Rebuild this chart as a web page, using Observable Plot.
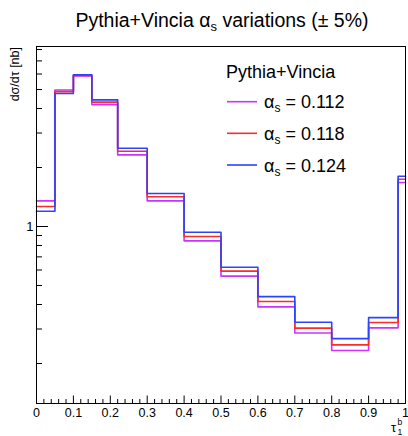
<!DOCTYPE html>
<html>
<head>
<meta charset="utf-8">
<script src="https://cdn.jsdelivr.net/npm/d3@7"></script>
<script src="https://cdn.jsdelivr.net/npm/@observablehq/plot@0.6"></script>
<style>
  html, body { margin: 0; padding: 0; background: white; }
  #chart { width: 408px; height: 436px; }
</style>
</head>
<body>
<div id="chart"></div>
<script>
// Bin edges of tau_1^b
const edges = [0, 0.05, 0.1, 0.15, 0.22, 0.3, 0.4, 0.5, 0.6, 0.7, 0.8, 0.9, 0.98, 1];
// dσ/dτ [nb] per bin for each alpha_s variation
const as112 = [1.352, 4.97, 5.87, 4.19, 2.32, 1.352, 0.845, 0.558, 0.389, 0.286, 0.233, 0.304, 1.677];
const as118 = [1.265, 4.88, 5.90, 4.31, 2.42, 1.418, 0.889, 0.592, 0.414, 0.303, 0.249, 0.324, 1.743];
const as124 = [1.197, 4.77, 5.94, 4.43, 2.51, 1.474, 0.935, 0.620, 0.439, 0.325, 0.268, 0.343, 1.806];
const seriesNames = ["0.112", "0.118", "0.124"];
const seriesColors = ["#cc33ff", "#ff2a2a", "#2a44ff"];

// Axis ticks
const xTicks = [0, 0.1, 0.2, 0.3, 0.4, 0.5, 0.6, 0.7, 0.8, 0.9, 1];
const xTickLabels = ["0", "0.1", "0.2", "0.3", "0.4", "0.5", "0.6", "0.7", "0.8", "0.9", "1"];
const xMinorTicks = [0.02,0.04,0.06,0.08,0.12,0.14,0.16,0.18,0.22,0.24,0.26,0.28,0.32,0.34,0.36,0.38,
  0.42,0.44,0.46,0.48,0.52,0.54,0.56,0.58,0.62,0.64,0.66,0.68,0.72,0.74,0.76,0.78,0.82,0.84,0.86,0.88,
  0.92,0.94,0.96,0.98];
const yTicks = [1];
const yTickLabels = ["1"];
const yMinorTicks = [0.2, 0.3, 0.4, 0.5, 0.6, 0.7, 0.8, 0.9, 2, 3, 4, 5, 6, 7, 8];

function steps(vals) {
  const pts = vals.map((v, i) => ({x: edges[i], y: v}));
  pts.push({x: edges[edges.length - 1], y: vals[vals.length - 1]});
  return pts;
}
const allSeries = [as112, as118, as124];

const W = 408, H = 436, mL = 36, mR = 3, mT = 46, mB = 33;
const innerW = W - mL - mR, innerH = H - mT - mB;
const font = "'Liberation Sans', Arial, Helvetica, sans-serif";

const plot = Plot.plot({
  width: W, height: H,
  marginLeft: mL, marginRight: mR, marginTop: mT, marginBottom: mB,
  style: {fontFamily: font, background: "white", color: "black"},
  x: {domain: [0, 1]},
  y: {type: "log", domain: [0.125, 8.29]},
  marks: [
    ...allSeries.map((s, i) => Plot.line(steps(s), {x: "x", y: "y", curve: "step-after", stroke: seriesColors[i], strokeWidth: 1.6})),
    Plot.ruleX(xMinorTicks, {stroke: "black", strokeWidth: 1, insetTop: innerH - 4}),
    Plot.ruleX(xTicks, {stroke: "black", strokeWidth: 1, insetTop: innerH - 7.5}),
    Plot.ruleY(yMinorTicks, {stroke: "black", strokeWidth: 1, insetRight: innerW - 6}),
    Plot.ruleY(yTicks, {stroke: "black", strokeWidth: 1, insetRight: innerW - 12}),
    Plot.axisX(xTicks, {tickSize: 0, tickPadding: 5, fontSize: 12.5, tickFormat: d => xTickLabels[xTicks.indexOf(d)], label: null}),
    Plot.axisY(yTicks, {tickSize: 0, tickPadding: 3, fontSize: 13, tickFormat: d => yTickLabels[yTicks.indexOf(d)], label: null}),
    Plot.frame({stroke: "black", strokeWidth: 1})
  ]
});

document.getElementById("chart").appendChild(plot);

const svg = d3.select(plot);

// Title
const title = svg.append("text")
  .attr("x", 222).attr("y", 27)
  .attr("text-anchor", "middle")
  .attr("font-family", font).attr("font-size", 19.5).attr("fill", "black");
title.append("tspan").text("Pythia+Vincia α");
title.append("tspan").attr("dy", 4).attr("font-size", 13).text("s");
title.append("tspan").attr("dy", -4).text(" variations (± 5%)");

// Y label
svg.append("text")
  .attr("transform", "translate(19,47) rotate(-90)")
  .attr("text-anchor", "end")
  .attr("font-family", font).attr("font-size", 12.5).attr("fill", "black")
  .text("dσ/dτ [nb]");

// X label τ_1^b
const xl = svg.append("text")
  .attr("x", 391).attr("y", 432)
  .attr("text-anchor", "start")
  .attr("font-family", font).attr("font-size", 13).attr("fill", "black");
xl.append("tspan").text("τ");
xl.append("tspan").attr("x", 397.5).attr("dy", -7).attr("font-size", 8.5).text("b");
xl.append("tspan").attr("x", 397.5).attr("dy", 10).attr("font-size", 8.5).text("1");

// Legend
svg.append("text")
  .attr("x", 226).attr("y", 78)
  .attr("text-anchor", "start")
  .attr("font-family", font).attr("font-size", 18).attr("fill", "black")
  .text("Pythia+Vincia");
const legY = [101.7, 133.3, 165];
seriesNames.forEach((n, i) => {
  svg.append("line")
    .attr("x1", 227).attr("x2", 257).attr("y1", legY[i]).attr("y2", legY[i])
    .attr("stroke", seriesColors[i]).attr("stroke-width", 1.6);
  const t = svg.append("text")
    .attr("x", 264).attr("y", legY[i] + 6.5)
    .attr("text-anchor", "start")
    .attr("font-family", font).attr("font-size", 18).attr("fill", "black");
  t.append("tspan").text("α");
  t.append("tspan").attr("dy", 4).attr("font-size", 12).text("s");
  t.append("tspan").attr("dy", -4).text(" = " + n);
});
</script>
</body>
</html>
